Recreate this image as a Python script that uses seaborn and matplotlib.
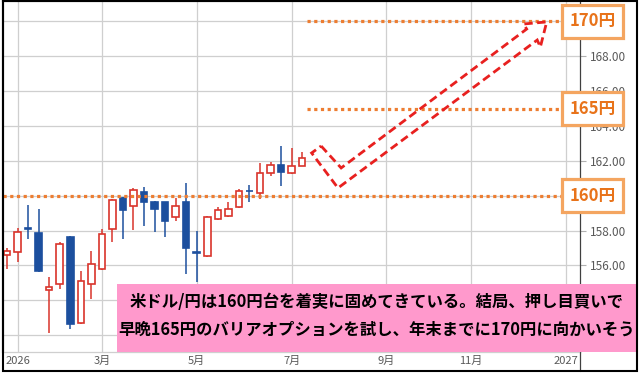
import numpy as np
import pandas as pd
import matplotlib
matplotlib.use("Agg")
import matplotlib.pyplot as plt
import seaborn as sns
from matplotlib.patches import Rectangle, Polygon
from matplotlib.lines import Line2D

# ---------------- data ----------------
start_week = "2025-12-29"
opens  = [156.58, 156.75, 158.15, 157.86, 154.59, 154.92, 157.63, 152.71, 154.92, 155.79,
          158.07, 159.89, 159.41, 160.20, 159.64, 159.62, 158.80, 159.64, 156.77, 156.54,
          158.65, 158.82, 159.35, 160.27, 160.14, 161.29, 161.74, 161.29, 161.70]
highs  = [156.98, 158.16, 159.47, 159.24, 155.34, 157.34, 157.69, 155.66, 156.83, 158.07,
          159.82, 159.95, 160.42, 160.52, 159.70, 159.64, 159.87, 160.71, 157.97, 158.82,
          159.35, 159.62, 160.38, 160.63, 161.86, 161.92, 162.85, 162.74, 162.49]
lows   = [155.78, 156.18, 157.53, 155.64, 152.14, 154.65, 152.33, 152.64, 154.06, 155.72,
          157.33, 157.53, 158.03, 158.28, 157.92, 157.65, 158.55, 155.52, 155.07, 156.50,
          158.62, 158.80, 159.30, 159.66, 159.81, 161.11, 160.54, 161.27, 161.68]
closes = [156.83, 157.90, 158.11, 155.70, 154.76, 157.21, 152.66, 155.09, 156.06, 157.79,
          159.74, 159.18, 160.31, 159.66, 159.25, 158.57, 159.41, 157.02, 156.73, 158.76,
          159.20, 159.25, 160.29, 160.24, 161.29, 161.74, 161.34, 161.69, 162.15]

levels = [160, 165, 170]
level_labels = ["160円", "165円", "170円"]
month_ticks = [(2026, 1), (2026, 3), (2026, 5), (2026, 7), (2026, 9), (2026, 11), (2027, 1)]
month_tick_labels = ["2026", "3月", "5月", "7月", "9月", "11月", "2027"]
y_ticks = [152, 154, 156, 158, 160, 162, 164, 166, 168, 170]
y_hidden = [152, 154, 160, 170]   # labels covered by boxes in the original
comment_lines = ["米ドル/円は160円台を着実に固めてきている。結局、押し目買いで",
                 "早晩165円のバリアオプションを試し、年末までに170円に向かいそう"]
# hand-drawn forecast arrow outline (week index, price)
arrow_x = [29.8, 31.7, 49.3, 49.0, 51.2, 50.6, 50.3, 31.4, 28.9]
arrow_y = [162.85, 161.59, 169.56, 169.85, 169.97, 168.53, 168.93, 160.44, 162.45]

# ---------------- setup ----------------
sns.set_theme(style="white")
plt.rcParams["font.family"] = ["Noto Sans CJK JP", "DejaVu Sans"]

W, H = 640, 378
fig = plt.figure(figsize=(W / 100, H / 100), dpi=100)
fig.patch.set_facecolor("white")

def fx(px):
    return px / W

def fy(py):
    return 1 - py / H

ax_left, ax_right, ax_top, ax_bottom = 3, 580, 1, 352
frame_bottom = 371
ax = fig.add_axes([fx(ax_left), fy(ax_bottom), fx(ax_right - ax_left), (ax_bottom - ax_top) / H])

weeks = pd.date_range(start_week, periods=60, freq="W-MON")
df = pd.DataFrame({"week": weeks[:len(opens)], "open": opens, "high": highs,
                   "low": lows, "close": closes})
df["x"] = np.arange(len(df))
df["up"] = df["close"] >= df["open"]
df["body_lo"] = df[["open", "close"]].min(axis=1)
df["body_h"] = (df["close"] - df["open"]).abs().clip(lower=0.001)

red = "#d9342b"
blue = "#1c4f9e"

# wicks
for up, sub in df.groupby("up"):
    ax.vlines(sub["x"], sub["low"], sub["high"], color=red if up else blue, lw=1.1, zorder=3)
# bodies
up_df = df[df["up"]]
dn_df = df[~df["up"]]
ax.bar(up_df["x"], up_df["body_h"], bottom=up_df["body_lo"], width=0.62,
       color="white", edgecolor=red, linewidth=1.2, zorder=4)
ax.bar(dn_df["x"], dn_df["body_h"], bottom=dn_df["body_lo"], width=0.62,
       color=blue, edgecolor=blue, linewidth=1.2, zorder=4)

# axes ranges
ax.set_xlim(-0.38, 54.36)
ax.set_ylim(151.03, 171.17)

# x ticks: first week of each month
wk = pd.Series(weeks)
tick_pos = [int(np.where((wk.dt.year == y) & (wk.dt.month == m))[0][0]) for y, m in month_ticks]
ax.set_xticks(tick_pos)
ax.set_xticklabels(month_tick_labels)
ax.set_yticks(y_ticks)
ax.set_yticklabels(["" if v in y_hidden else f"{v:.2f}" for v in y_ticks])
ax.yaxis.tick_right()
ax.tick_params(axis="y", length=4, width=0.8, color="#b0b0b0", labelsize=8.5,
               labelcolor="#595959", pad=3)
ax.tick_params(axis="x", length=0, labelsize=8, labelcolor="#595959", pad=3)
ax.grid(True, color="#cfcfcf", lw=0.9, zorder=0)
ax.set_axisbelow(True)
for s in ["left", "top"]:
    ax.spines[s].set_color("black")
    ax.spines[s].set_linewidth(1.5)
ax.spines["right"].set_color("#404040")
ax.spines["right"].set_linewidth(0.9)
ax.spines["bottom"].set_color("#cfcfcf")
ax.spines["bottom"].set_linewidth(0.9)

# orange dotted levels
orange = "#ed7d31"
level_start = {160: -0.38, 165: 28.46, 170: 28.46}
x_end = 52.66
for lv in levels:
    ax.plot([level_start[lv], x_end], [lv, lv], color=orange, lw=2.3,
            ls=(0, (1, 1.1)), dash_capstyle="butt", zorder=6)

# forecast arrow
ax.add_patch(Polygon(list(zip(arrow_x, arrow_y)), closed=True, fill=False,
                     ec="#e8201f", lw=2.0, ls=(0, (3, 1.6)), zorder=7))

# extend right axis line through label row
fig.add_artist(Line2D([fx(580), fx(580)], [fy(frame_bottom), fy(ax_bottom)],
                      color="#404040", lw=0.9))

# level boxes
for lv, lab in zip(levels, level_labels):
    py = ax.transData.transform((0, lv))[1]  # display px (from bottom)
    cy = H - py
    fig.add_artist(Rectangle((fx(562), fy(cy + 16.5)), fx(61), 33 / H,
                             transform=fig.transFigure, fc="white", ec="#f4a560",
                             lw=2.3, zorder=10))
    fig.text(fx(592.5), fy(cy), lab, ha="center", va="center", fontsize=12,
             fontweight="bold", color="#e8731a", zorder=11)

# pink comment box
fig.add_artist(Rectangle((fx(117), fy(ax_bottom)), fx(637 - 117), (ax_bottom - 284) / H,
                         transform=fig.transFigure, fc="#ff99cc", ec="none", zorder=12))
for i, line in enumerate(comment_lines):
    fig.text(fx(377), fy(302 + 28 * i), line, ha="center", va="center",
             fontsize=11.8, fontweight="bold", color="black", zorder=13)

# outer frame
fig.add_artist(Rectangle((fx(3), fy(frame_bottom)), fx(634), (frame_bottom - 1) / H,
                         transform=fig.transFigure, fill=False, ec="black", lw=1.5, zorder=20))

fig.savefig("out.png", dpi=100)
